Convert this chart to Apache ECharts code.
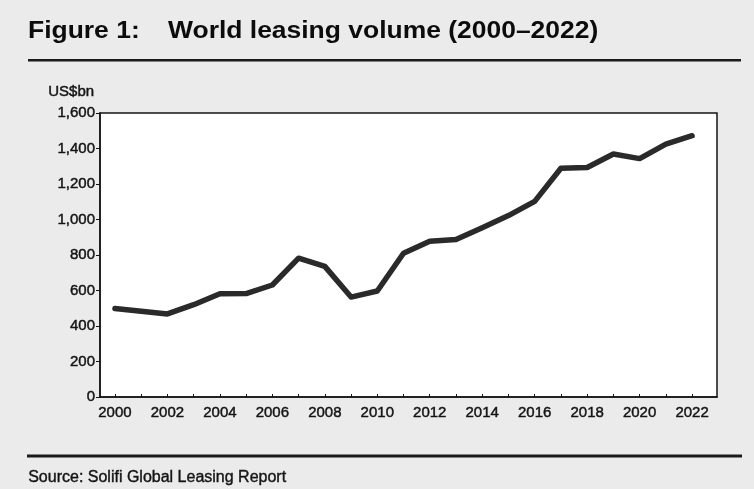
<!DOCTYPE html>
<html>
<head>
<meta charset="utf-8">
<script src="https://cdn.jsdelivr.net/npm/echarts@6/dist/echarts.min.js"></script>
<style>
  html, body { margin: 0; padding: 0; background: #ebebeb; }
  #chart { width: 754px; height: 489px; }
</style>
</head>
<body>
<div id="chart"></div>
<script>
// World leasing volume, US$bn
const years = [2000, 2001, 2002, 2003, 2004, 2005, 2006, 2007, 2008, 2009, 2010, 2011,
               2012, 2013, 2014, 2015, 2016, 2017, 2018, 2019, 2020, 2021, 2022];
const volume = [498, 483, 468, 520, 582, 583, 631, 782, 736, 563, 597, 810,
                878, 887, 954, 1022, 1102, 1289, 1293, 1369, 1343, 1425, 1472];
const xTickLabels = [2000, 2002, 2004, 2006, 2008, 2010, 2012, 2014, 2016, 2018, 2020, 2022];
const yTicks = [0, 200, 400, 600, 800, 1000, 1200, 1400, 1600];

const FONT = '"Liberation Sans", Arial, Helvetica, sans-serif';
const INK = '#141414';
// slight outline gives the small text a medium weight
const HEAVY = { textBorderColor: INK, textBorderWidth: 0.45 };

const chart = echarts.init(document.getElementById('chart'), null, { renderer: 'canvas' });

chart.setOption({
  backgroundColor: '#ebebeb',
  animation: false,
  grid: {
    left: 100, right: 37, top: 113, bottom: 92,
    show: true,
    backgroundColor: '#ffffff',
    borderColor: INK,
    borderWidth: 1.5,
    containLabel: false,
    outerBoundsMode: 'none'
  },
  xAxis: {
    type: 'value',
    min: 1999.43,
    max: 2022.95,
    splitLine: { show: false },
    axisLine: { show: true, onZero: false, lineStyle: { color: INK, width: 1.5 } },
    axisTick: {
      show: true, inside: true, length: 3,
      customValues: years,
      lineStyle: { color: INK, width: 1 }
    },
    axisLabel: Object.assign({
      customValues: xTickLabels,
      margin: 8,
      color: INK,
      fontFamily: FONT,
      fontSize: 15,
      formatter: v => String(v)
    }, HEAVY)
  },
  yAxis: {
    type: 'value',
    min: yTicks[0],
    max: yTicks[yTicks.length - 1],
    interval: 200,
    splitLine: { show: false },
    axisLine: { show: true, lineStyle: { color: INK, width: 1.5 } },
    axisTick: { show: true, inside: false, length: 4, lineStyle: { color: INK, width: 1 } },
    axisLabel: Object.assign({
      margin: 5,
      color: INK,
      fontFamily: FONT,
      fontSize: 15,
      formatter: v => v.toLocaleString('en-US')
    }, HEAVY)
  },
  series: [{
    type: 'line',
    data: years.map((y, i) => [y, volume[i]]),
    symbol: 'none',
    smooth: false,
    lineStyle: { color: '#2a2a2a', width: 5.5, cap: 'round', join: 'round' }
  }],
  graphic: [
    {
      type: 'text', left: 28, top: 20, scaleX: 1.15,
      style: { text: 'Figure 1:', fill: '#0c0c0c', font: 'bold 23px ' + FONT }
    },
    {
      type: 'text', left: 168, top: 20, scaleX: 1.15,
      style: { text: 'World leasing volume (2000\u20132022)', fill: '#0c0c0c', font: 'bold 23px ' + FONT }
    },
    {
      type: 'rect', shape: { x: 28, y: 59, width: 713, height: 2.5 },
      style: { fill: '#1a1a1a' }
    },
    {
      type: 'text', left: 48, top: 84,
      style: Object.assign({ text: 'US$bn', fill: INK, font: '15px ' + FONT }, { stroke: INK, lineWidth: 0.45 })
    },
    {
      type: 'rect', shape: { x: 27, y: 454.5, width: 715, height: 3 },
      style: { fill: '#1a1a1a' }
    },
    {
      type: 'text', left: 28, top: 469,
      style: { text: 'Source: Solifi Global Leasing Report', fill: INK, font: '16px ' + FONT, stroke: INK, lineWidth: 0.4 }
    }
  ]
});
</script>
</body>
</html>
